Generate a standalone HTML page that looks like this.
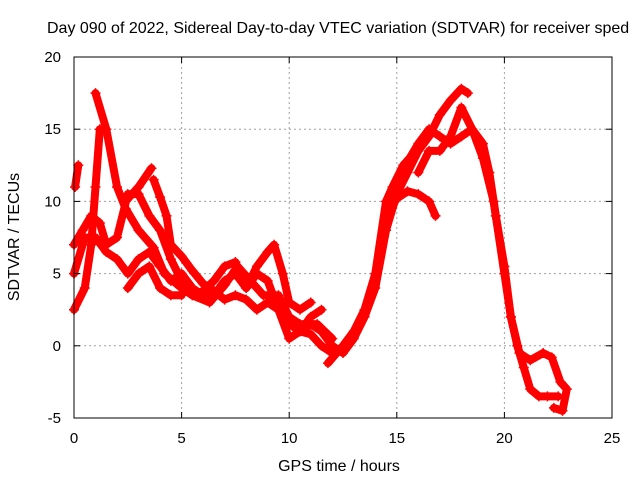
<!DOCTYPE html>
<html><head><meta charset="utf-8"><style>
body{margin:0;background:#fff;width:640px;height:480px;overflow:hidden}
svg text{font-family:"Liberation Sans",sans-serif;font-size:15px;fill:#000}
svg text.big{font-size:16px}
</style></head><body>
<svg id="chart" width="640" height="480" xmlns="http://www.w3.org/2000/svg">
<text class="big" x="47" y="33">Day 090 of 2022, Sidereal Day-to-day VTEC variation (SDTVAR) for receiver sped</text>
<g id="grid"></g>
<g id="series"></g>
<rect x="74" y="57" width="538" height="361" fill="none" stroke="#000" stroke-width="1"/>
<g id="ticks"></g>
<text class="big" x="339" y="471" text-anchor="middle">GPS time / hours</text>
<text class="big" transform="translate(19,237) rotate(-90)" text-anchor="middle">SDTVAR / TECUs</text>
</svg>
<script>
const xTicks=[0,5,10,15,20,25];
const yTicks=[-5,0,5,10,15,20];
const track1=[[1.0,17.5],[1.5,15],[2.0,11],[2.4,9.5],[3,8],[3.7,6.8],[4.2,5],[5,4],[5.5,3.5],[6.3,3],[7,4.2],[7.6,5.5],[8.2,4.5],[8.8,3.5],[9.5,3.5],[10,2],[10.5,1.5],[11.3,1.5],[12,0.5]];
const track2=[[0,2.5],[0.5,4],[0.8,7],[1.0,11],[1.2,15]];
const track3=[[0.05,11],[0.2,12.5]];
const track4=[[0,7],[0.4,8],[0.8,9],[1.2,8.5],[1.5,7],[2,7.5],[2.5,10.5],[3,10.5],[3.5,9],[4,8],[4.5,6],[5,4.5],[5.5,3.5],[6,3.8],[6.5,4.5],[7,5.5],[7.5,5.8],[8,4],[8.5,5.5],[9,6.5],[9.3,7],[9.7,5],[10,3],[10.5,2.5],[11,3]];
const track5=[[0,5],[0.5,7.5],[1,7.5],[1.5,6.5],[2,6],[2.5,5],[3,6],[3.5,6.5],[4,5.5],[4.5,4.5],[5,5],[5.5,4],[6,3.5],[6.5,3.5],[7,4.5],[7.5,5],[8,4],[8.5,5],[9,4.5],[9.5,2.5],[10,0.5],[10.5,1],[11,2],[11.5,2.5]];
const track6=[[2.5,4],[3,5],[3.5,5.5],[4,4],[4.5,3.5],[5,3.5]];
const track7=[[2.45,10.1],[3.0,11],[3.6,12.3]];
const track8=[[3.7,11.5],[4.0,10.3],[4.3,9],[4.5,7],[5,6.2],[5.5,5.2],[6,4.3],[6.5,3.8],[7,3.2],[7.5,3.5],[8,3.2],[8.5,2.5],[9,3],[9.5,2.5],[10,1.5],[10.5,1],[11,0.8],[11.5,0],[12,-0.5]];
const track9=[[10.5,1],[11,1.5],[11.5,1],[12,0],[12.5,-0.5],[13,0.5],[13.5,2],[14,4],[14.5,8],[15,10.5],[15.5,12],[16,13.5],[16.5,14.5],[17,16],[17.5,17],[18,17.8],[18.3,17.5]];
const track10=[[11.8,-1.2],[12.5,0],[13,1],[13.5,2.5],[14,5],[14.5,10],[14.8,11],[15.3,12.5],[15.6,13],[16,14],[16.5,15],[17,14.5],[17.5,14],[18,14.5],[18.5,15],[19,14],[19.3,12],[19.6,9],[20,5.5],[20.3,2],[20.6,0],[20.9,-1.5],[21.2,-3],[21.6,-3.5],[22,-3.5],[22.5,-3.5]];
const track11=[[14.5,9],[15,10.2],[15.5,10.7],[16,10.5],[16.5,10],[16.8,9]];
const track12=[[16,12],[16.5,13.5],[17,13.5],[17.5,14.5],[18,16.5],[18.5,15],[19,13],[19.5,10],[20,5],[20.3,2],[20.7,-0.5],[21.2,-1],[21.8,-0.5],[22.2,-0.8],[22.6,-2.5],[22.9,-3],[22.7,-4.5],[22.3,-4.3]];
const tracks=[track1,track2,track3,track4,track5,track6,track7,track8,track9,track10,track11,track12];
const NS="http://www.w3.org/2000/svg";
const X0=74,X1=612,Y0=418,Y1=57;
function xs(v){return X0+(v-0)/(25-0)*(X1-X0);}
function ys(v){return Y0-(v+5)/(25)*(Y0-Y1);}
const grid=document.getElementById('grid'),ticks=document.getElementById('ticks'),ser=document.getElementById('series');
function mk(tag,attrs,parent){const e=document.createElementNS(NS,tag);for(const k in attrs)e.setAttribute(k,attrs[k]);parent.appendChild(e);return e;}
xTicks.forEach(t=>{const x=xs(t);
 if(t>0&&t<25){const g=mk('line',{x1:x,x2:x,y1:Y1,y2:Y0,stroke:'#a0a0a0','stroke-dasharray':'2,3'},grid);
 
 }
 const a=mk('line',{x1:x,x2:x,y1:Y0,y2:Y0-6,stroke:'#000'},ticks);
 
 
 const b=mk('line',{x1:x,x2:x,y1:Y1,y2:Y1+6,stroke:'#000'},ticks);
 
 
 const l=mk('text',{x:x,y:443,'text-anchor':'middle'},ticks);l.textContent=t;
 
 });
yTicks.forEach(t=>{const y=ys(t);
 if(t>-5&&t<20){const g=mk('line',{x1:X0,x2:X1,y1:y,y2:y,stroke:'#a0a0a0','stroke-dasharray':'2,3'},grid);
 
 }
 const a=mk('line',{x1:X0,x2:X0+6,y1:y,y2:y,stroke:'#000'},ticks);
 
 
 const b=mk('line',{x1:X1,x2:X1-6,y1:y,y2:y,stroke:'#000'},ticks);
 
 
 const l=mk('text',{x:61,y:y+5,'text-anchor':'end'},ticks);l.textContent=t;
 
 });
tracks.forEach((tr,i)=>{
 const p=mk('polyline',{points:tr.map(d=>xs(d[0])+','+ys(d[1])).join(' '),fill:'none',stroke:'#ff0000','stroke-width':8,'stroke-linejoin':'round','stroke-linecap':'round'},ser);
 
 
 tr.forEach(d=>{const x=xs(d[0]),y=ys(d[1]);
  const m=mk('path',{d:`M${x-5},${y}H${x+5}M${x},${y-5}V${y+5}`,stroke:'#ff0000','stroke-width':1.5},ser);
  
  });
});
</script>
</body></html>
